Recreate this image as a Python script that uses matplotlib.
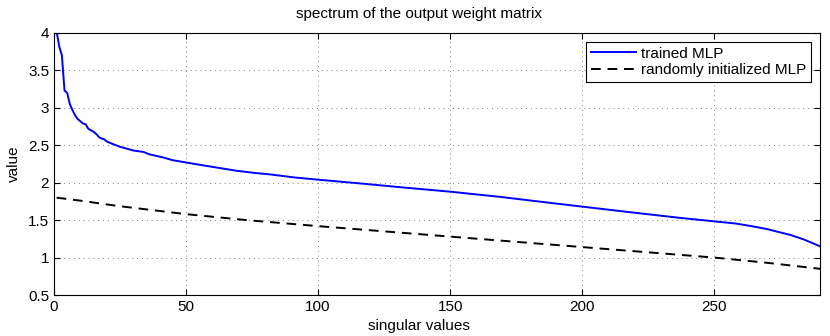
import matplotlib
matplotlib.use("Agg")
import matplotlib.pyplot as plt

plt.rcParams['font.family'] = ['Liberation Sans', 'DejaVu Sans']

# trained MLP spectrum (index, singular value)
trained_x = [1, 2, 3, 4, 5, 6, 7, 8, 9, 10, 11, 12, 13, 14, 15, 16, 17, 18, 19, 20,
             22, 25, 28, 30, 34, 36, 41, 45, 50, 55, 62, 69, 76, 82, 91, 100, 116,
             131, 150, 169, 188, 200, 222, 237, 251, 258, 264, 270, 279, 284, 290]
trained_y = [4.02, 3.82, 3.70, 3.23, 3.20, 3.05, 2.97, 2.90, 2.85, 2.82, 2.79, 2.78,
             2.72, 2.70, 2.68, 2.65, 2.61, 2.59, 2.58, 2.55, 2.52, 2.48, 2.45, 2.43,
             2.41, 2.38, 2.34, 2.30, 2.27, 2.24, 2.20, 2.16, 2.13, 2.11, 2.07, 2.04,
             1.99, 1.94, 1.88, 1.81, 1.73, 1.68, 1.59, 1.53, 1.48, 1.455, 1.42, 1.38,
             1.30, 1.24, 1.15]

# randomly initialized MLP spectrum
random_x = [1, 10, 24, 50, 73, 100, 150, 200, 250, 270, 290]
random_y = [1.80, 1.76, 1.69, 1.58, 1.50, 1.42, 1.28, 1.14, 1.00, 0.93, 0.85]

xticks = [0, 50, 100, 150, 200, 250]
yticks = [0.5, 1, 1.5, 2, 2.5, 3, 3.5, 4]
ytick_labels = ["0.5", "1", "1.5", "2", "2.5", "3", "3.5", "4"]

fig = plt.figure(figsize=(8.3, 3.36), dpi=100)
ax = fig.add_axes([0.065, 0.122, 0.923, 0.780])

ax.plot(trained_x, trained_y, color='#0000ff', lw=1.4, label='trained MLP')
ax.plot(random_x, random_y, color='black', lw=1.4, linestyle=(0, (5, 3.5)),
        label='randomly initialized MLP')

ax.set_xlim(0, 290)
ax.set_ylim(0.5, 4)
ax.set_xticks(xticks)
ax.set_yticks(yticks)
ax.set_yticklabels(ytick_labels)
ax.tick_params(direction='in', length=4, width=0.8, top=True, right=True,
               labelsize=11, colors='black')
ax.grid(True, color='0.5', linestyle=(0, (1, 4)), linewidth=0.7)
for s in ax.spines.values():
    s.set_color('black')
    s.set_linewidth(0.8)

ax.set_title('spectrum of the output weight matrix', fontsize=11, pad=11, x=0.477)
ax.set_xlabel('singular values', fontsize=11, labelpad=4)
ax.xaxis.set_label_coords(0.477, -0.09)
ax.set_ylabel('value', fontsize=11, labelpad=5)

leg = ax.legend(loc='upper right', fontsize=11, fancybox=False, framealpha=1,
                edgecolor='black', borderpad=0.3, handlelength=3.0,
                handletextpad=0.3, labelspacing=0.15, borderaxespad=0.6)
leg.get_frame().set_linewidth(0.8)

fig.savefig('out.png', dpi=100)
